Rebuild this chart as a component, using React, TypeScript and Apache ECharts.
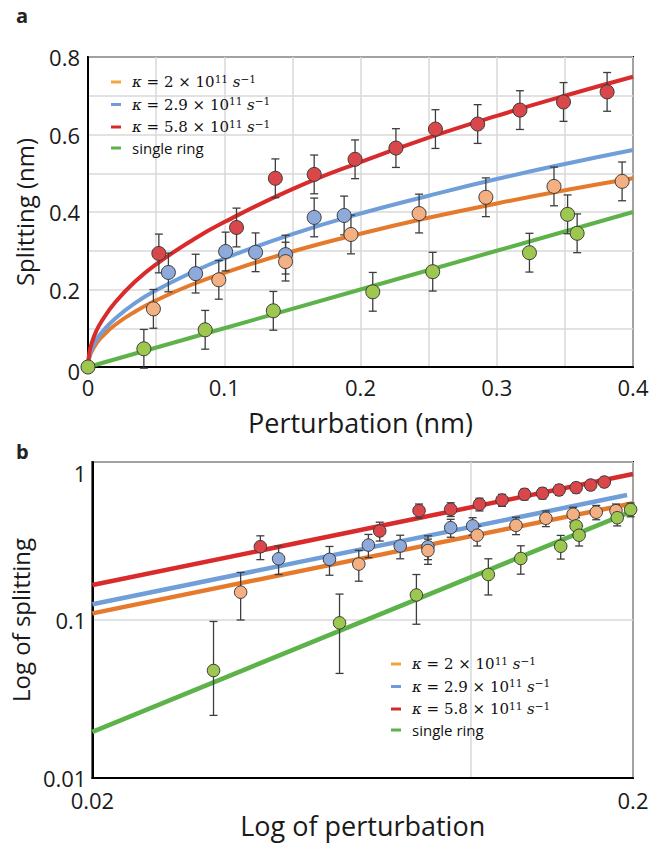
import React, { useEffect, useRef } from "react";
import * as echarts from "echarts";

// ---------- Panel a : data ----------
const curveAX = [0, 0.001, 0.003, 0.006, 0.01, 0.02, 0.035, 0.05, 0.075, 0.1, 0.15, 0.2, 0.25, 0.3, 0.35, 0.4];
const curveARed = [0, 0.037, 0.065, 0.092, 0.118, 0.167, 0.222, 0.265, 0.324, 0.374, 0.459, 0.529, 0.592, 0.648, 0.7, 0.749];
const curveABlue = [0, 0.028, 0.048, 0.069, 0.089, 0.125, 0.166, 0.198, 0.242, 0.28, 0.343, 0.396, 0.442, 0.485, 0.524, 0.56];
const curveAOrange = [0, 0.024, 0.042, 0.06, 0.077, 0.109, 0.144, 0.172, 0.211, 0.243, 0.298, 0.344, 0.385, 0.422, 0.456, 0.487];
const lineAGreenX = [0, 0.1, 0.2, 0.3, 0.4];
const lineAGreenY = [0, 0.1, 0.2, 0.3, 0.4];

// points: [x, y, error]
const redA = [[0.052, 0.293, 0.05], [0.109, 0.36, 0.05], [0.1375, 0.487, 0.05], [0.166, 0.497, 0.05], [0.196, 0.536, 0.05], [0.226, 0.565, 0.05], [0.255, 0.614, 0.05], [0.286, 0.627, 0.05], [0.317, 0.663, 0.05], [0.349, 0.684, 0.05], [0.381, 0.71, 0.05]];
const blueA = [[0.059, 0.244, 0.05], [0.079, 0.241, 0.05], [0.101, 0.298, 0.05], [0.123, 0.296, 0.05], [0.145, 0.29, 0.05], [0.166, 0.386, 0.05], [0.188, 0.391, 0.05]];
const orangeA = [[0.048, 0.15, 0.05], [0.096, 0.225, 0.05], [0.145, 0.272, 0.05], [0.193, 0.342, 0.05], [0.243, 0.396, 0.05], [0.292, 0.438, 0.05], [0.342, 0.466, 0.05], [0.392, 0.479, 0.05]];
const greenA = [[0, 0, 0], [0.041, 0.047, 0.05], [0.086, 0.096, 0.05], [0.136, 0.145, 0.05], [0.209, 0.194, 0.05], [0.253, 0.246, 0.05], [0.324, 0.295, 0.05], [0.352, 0.394, 0.05], [0.359, 0.345, 0.05]];

// ---------- Panel b ----------
const lineBRed = [[0.02, 0.1665], [0.2, 0.839]];
const lineBBlue = [[0.02, 0.1257], [0.195, 0.618]];
const lineBOrange = [[0.02, 0.1102], [0.2, 0.548]];
const lineBGreen = [[0.02, 0.0196], [0.2, 0.49]];

// points: [x, y, errDown, errUp]
const redB = [[0.0409, 0.291, 0.05, 0.05], [0.068, 0.366, 0.05, 0.05], [0.0804, 0.492, 0.05, 0.05], [0.092, 0.502, 0.05, 0.05], [0.104, 0.54, 0.05, 0.05], [0.1145, 0.574, 0.05, 0.05], [0.126, 0.625, 0.05, 0.05], [0.136, 0.634, 0.05, 0.05], [0.146, 0.665, 0.05, 0.05], [0.157, 0.688, 0.05, 0.05], [0.167, 0.715, 0.05, 0.05], [0.177, 0.747, 0.05, 0.05]];
const blueB = [[0.0442, 0.244, 0.05, 0.05], [0.0549, 0.242, 0.05, 0.05], [0.0648, 0.298, 0.05, 0.05], [0.0742, 0.294, 0.05, 0.05], [0.0835, 0.291, 0.05, 0.05], [0.092, 0.384, 0.05, 0.05], [0.101, 0.394, 0.05, 0.05]];
const orangeB = [[0.0376, 0.15, 0.05, 0.05], [0.0622, 0.226, 0.05, 0.05], [0.0835, 0.275, 0.05, 0.05], [0.103, 0.344, 0.05, 0.05], [0.1215, 0.397, 0.05, 0.05], [0.138, 0.44, 0.05, 0.05], [0.155, 0.467, 0.05, 0.05], [0.171, 0.481, 0.05, 0.05], [0.186, 0.492, 0.05, 0.05]];
const greenB = [[0.0335, 0.0479, 0.023, 0.05], [0.0573, 0.0959, 0.05, 0.05], [0.0795, 0.144, 0.05, 0.05], [0.108, 0.194, 0.05, 0.05], [0.124, 0.245, 0.05, 0.05], [0.147, 0.293, 0.05, 0.05], [0.157, 0.394, 0.05, 0.05], [0.159, 0.344, 0.05, 0.05], [0.187, 0.444, 0.05, 0.05], [0.198, 0.5, 0.05, 0.05]];

const legendNames = ["k2", "k29", "k58", "single"];
const legendKappa = ["2", "2.9", "5.8"];

const FONT = '"Open Sans", sans-serif';
const C = {
  redLine: "#d92b2b", blueLine: "#709ed9", orangeLine: "#e67a2c", greenLine: "#5db24a",
  redPt: "#d9474b", bluePt: "#8eaadb", orangePt: "#f3b183", greenPt: "#9dc74f",
  orangeLeg: "#f4a53d", blueLeg: "#6f9bd8", redLeg: "#d62a2a", greenLeg: "#5cb14a",
};

function errRender(capW: number) {
  return (params: any, api: any) => {
    const x = api.value(0);
    const lo = api.value(2);
    const hi = api.value(3);
    if (hi - lo <= 0) return { type: "group", children: [] };
    const pLo = api.coord([x, lo]);
    const pHi = api.coord([x, hi]);
    const style = { stroke: "#3d3d3d", lineWidth: 1.3 };
    return {
      type: "group",
      children: [
        { type: "line", shape: { x1: pLo[0], y1: pLo[1], x2: pHi[0], y2: pHi[1] }, style },
        { type: "line", shape: { x1: pHi[0] - capW, y1: pHi[1], x2: pHi[0] + capW, y2: pHi[1] }, style },
        { type: "line", shape: { x1: pLo[0] - capW, y1: pLo[1], x2: pLo[0] + capW, y2: pLo[1] }, style },
      ],
    };
  };
}

function legendFormatter(name: string) {
  const i = legendNames.indexOf(name);
  if (i === 3) return "{s|single ring}";
  return `{k|κ}{n| = ${legendKappa[i]} × 10}{sup|11}{n| }{k|s}{sup|−1}`;
}

const SERIF = '"DejaVu Serif", serif';
const legendRich = {
  k: { fontFamily: SERIF, fontStyle: "italic", fontSize: 15, lineHeight: 18, color: "#111" },
  n: { fontFamily: SERIF, fontSize: 15, lineHeight: 18, color: "#111" },
  sup: { fontFamily: SERIF, fontSize: 10.5, lineHeight: 12, verticalAlign: "top", color: "#111" },
  s: { fontFamily: FONT, fontSize: 15, lineHeight: 18, color: "#111" },
};

function makeLegend(left: number, top: number) {
  const colors = [C.orangeLeg, C.blueLeg, C.redLeg, C.greenLeg];
  return {
    left, top, orient: "vertical", itemGap: 6, itemWidth: 10, itemHeight: 3,
    selectedMode: false,
    data: legendNames.map((n, i) => ({ name: n, icon: "rect", itemStyle: { color: colors[i] } })),
    formatter: legendFormatter,
    textStyle: { rich: legendRich, padding: [0, 0, 0, 6] },
  };
}

export default function App() {
  const ref = useRef<HTMLDivElement>(null);
  useEffect(() => {
    if (!ref.current) return;
    const chart = echarts.init(ref.current, undefined, { renderer: "svg" });

    const tickStyle = { fontSize: 22, lineHeight: 22, color: "#1a1a1a", fontFamily: FONT };
    const nameStyle = { fontSize: 24, color: "#1a1a1a", fontFamily: FONT };
    const axisLine = { show: true, onZero: false, lineStyle: { color: "#000", width: 2 } };
    const split = { show: true, lineStyle: { color: "#d9d9d9", width: 1.5 } };

    const scatter = (name: string, data: number[][], color: string, grid: number, size: number) => ({
      type: "scatter", name: name + "_pts", xAxisIndex: grid, yAxisIndex: grid,
      data: data.map((d) => [d[0], d[1]]), symbolSize: size, z: 5,
      itemStyle: { color, borderColor: "#3a3a3a", borderWidth: 1, opacity: 1 },
    });
    const errA = (data: number[][]) => ({
      type: "custom", xAxisIndex: 0, yAxisIndex: 0, z: 4, renderItem: errRender(4),
      encode: { x: 0, y: [1, 2, 3] },
      data: data.map((d) => [d[0], d[1], d[1] - d[2], d[1] + d[2]]),
    });
    const errB = (data: number[][]) => ({
      type: "custom", xAxisIndex: 1, yAxisIndex: 1, z: 4, renderItem: errRender(4),
      encode: { x: 0, y: [1, 2, 3] },
      data: data.map((d) => [d[0], d[1], d[1] - d[2], d[1] + d[3]]),
    });
    const lineA = (name: string, ys: number[], color: string) => ({
      type: "line", name, xAxisIndex: 0, yAxisIndex: 0, showSymbol: false, symbol: "none",
      smooth: 0.5, z: 3,
      data: curveAX.map((x, i) => [x, ys[i]]),
      lineStyle: { color, width: 4 }, itemStyle: { color },
    });
    const lineB = (name: string, data: number[][], color: string) => ({
      type: "line", name, xAxisIndex: 1, yAxisIndex: 1, showSymbol: false, symbol: "none", z: 3,
      data, lineStyle: { color, width: 4.5 }, itemStyle: { color },
    });

    const option = {
      animation: false,
      backgroundColor: "#ffffff",
      title: [
        { text: "a", left: 11, top: 0, textStyle: { fontSize: 20, fontWeight: "bold", fontFamily: FONT, color: "#222" } },
        { text: "b", left: 11, top: 436, textStyle: { fontSize: 20, fontWeight: "bold", fontFamily: FONT, color: "#222" } },
      ],
      legend: [makeLegend(106, 68), makeLegend(386, 650)],
      grid: [
        { left: 88, top: 57, width: 545, height: 310, show: true, borderColor: "#000", borderWidth: 2, backgroundColor: "transparent" },
        { left: 84, top: 462, width: 549, height: 316, show: true, borderColor: "#000", borderWidth: 2, backgroundColor: "transparent" },
      ],
      xAxis: [
        {
          gridIndex: 0, type: "value", min: 0, max: 0.4, interval: 0.05,
          axisLine, axisTick: { show: false }, splitLine: split,
          axisLabel: {
            ...tickStyle, margin: 9,
            formatter: (v: number) => {
              const r = Math.round(v * 100);
              return r % 10 === 0 ? (r === 0 ? "0" : String(r / 100)) : "";
            },
          },
          name: "Perturbation (nm)", nameLocation: "middle", nameGap: 42, nameTextStyle: { ...nameStyle, fontSize: 27 },
        },
        {
          gridIndex: 1, type: "log", logBase: 10, min: 0.02, max: 0.2,
          axisLine, axisTick: { show: false }, splitLine: split,
          axisLabel: {
            ...tickStyle, margin: 11,
            formatter: (v: number) => (Math.abs(v - 0.02) < 1e-6 ? "0.02" : Math.abs(v - 0.2) < 1e-6 ? "0.2" : ""),
          },
          name: "Log of perturbation", nameLocation: "middle", nameGap: 34, nameTextStyle: { ...nameStyle, fontSize: 27 },
        },
      ],
      yAxis: [
        {
          gridIndex: 0, type: "value", min: 0, max: 0.8, interval: 0.1,
          axisLine, axisTick: { show: false }, splitLine: split,
          axisLabel: {
            ...tickStyle, margin: 8,
            formatter: (v: number) => {
              const r = Math.round(v * 10);
              return r % 2 === 0 ? (r === 0 ? "{low|0}" : String(r / 10)) : "";
            },
            rich: { low: { fontSize: 22, fontFamily: FONT, color: "#1a1a1a", padding: [8, 0, 0, 0] } },
          },
          name: "Splitting (nm)", nameLocation: "middle", nameGap: 52, nameTextStyle: nameStyle,
        },
        {
          gridIndex: 1, type: "log", logBase: 10, min: 0.01, max: 1,
          axisLine, axisTick: { show: false }, splitLine: split,
          axisLabel: {
            ...tickStyle, margin: 6,
            formatter: (v: number) =>
              Math.abs(v - 0.01) < 1e-7 ? "0.01" : Math.abs(v - 0.1) < 1e-6 ? "0.1" : Math.abs(v - 1) < 1e-5 ? "{top|1}" : "",
            rich: { top: { fontSize: 22, fontFamily: FONT, color: "#1a1a1a", padding: [22, 0, 0, 0] } },
          },
          name: "Log of splitting", nameLocation: "middle", nameGap: 48, nameTextStyle: nameStyle,
        },
      ],
      series: [
        lineA("k2", curveAOrange, C.orangeLine),
        lineA("k29", curveABlue, C.blueLine),
        lineA("k58", curveARed, C.redLine),
        {
          type: "line", name: "single", xAxisIndex: 0, yAxisIndex: 0, showSymbol: false, symbol: "none", z: 3,
          data: lineAGreenX.map((x, i) => [x, lineAGreenY[i]]),
          lineStyle: { color: C.greenLine, width: 4 }, itemStyle: { color: C.greenLine },
        },
        errA(redA), errA(blueA), errA(orangeA), errA(greenA),
        scatter("red", redA, C.redPt, 0, 14),
        scatter("blue", blueA, C.bluePt, 0, 14),
        scatter("orange", orangeA, C.orangePt, 0, 14),
        scatter("green", greenA, C.greenPt, 0, 14),

        lineB("k2", lineBOrange, C.orangeLine),
        lineB("k29", lineBBlue, C.blueLine),
        lineB("k58", lineBRed, C.redLine),
        lineB("single", lineBGreen, C.greenLine),
        errB(redB), errB(blueB), errB(orangeB), errB(greenB),
        scatter("red", redB, C.redPt, 1, 12.5),
        scatter("blue", blueB, C.bluePt, 1, 12.5),
        scatter("orange", orangeB, C.orangePt, 1, 12.5),
        scatter("green", greenB, C.greenPt, 1, 12.5),
      ],
    };
    chart.setOption(option as any);
    return () => chart.dispose();
  }, []);
  return <div ref={ref} style={{ position: "absolute", left: 0, top: 0, width: 653, height: 845 }} />;
}
